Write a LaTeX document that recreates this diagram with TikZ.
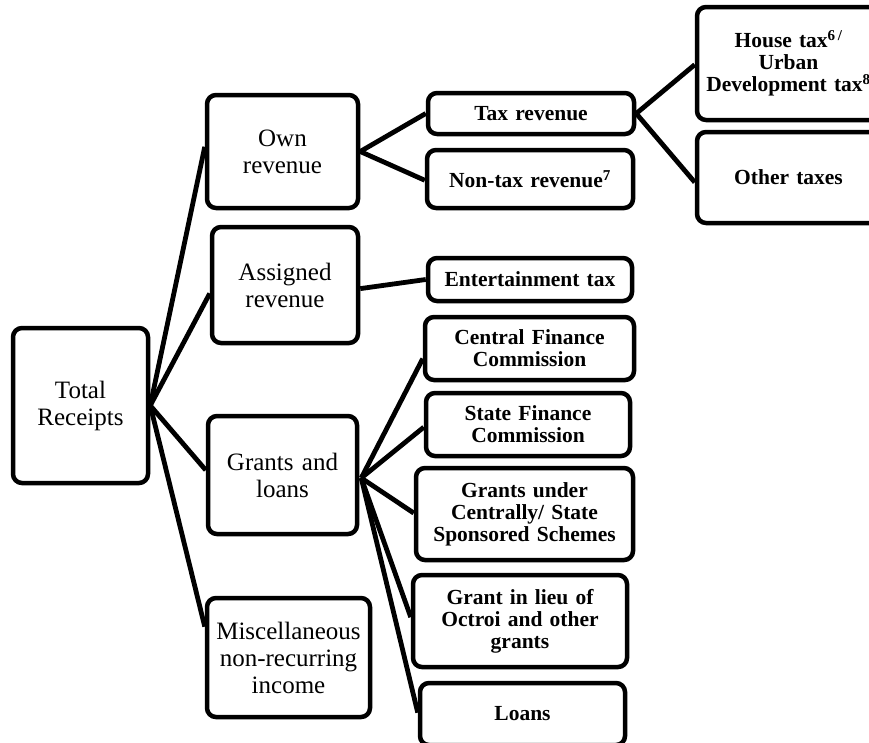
\documentclass[tikz,border=0pt]{standalone}
\usepackage{fontspec}
\setmainfont{Liberation Serif}
\usetikzlibrary{calc}
\tikzset{
  box/.style={draw, line width=4.5pt, rounded corners=9pt, inner sep=0pt, align=center},
  lvlone/.style={box, font=\fontsize{25}{27}\selectfont},
  lvltwo/.style={box, font=\bfseries\fontsize{21.5}{22}\selectfont},
  conn/.style={line width=4.8pt}
}
\begin{document}
\begin{tikzpicture}[x=1pt, y=-1pt]
\useasboundingbox (0,0) rectangle (869,742);
\clip (0,0) rectangle (869,742);
\fill[white] (0,0) rectangle (869,742);
% level 0 and 1
\node[lvlone, minimum width=135pt, minimum height=155pt, text width=129pt] (tot) at (80.5,405.5) {Total\\Receipts};
\node[lvlone, minimum width=151pt, minimum height=113pt, text width=145pt] (own) at (282.5,151.5) {Own\\revenue};
\node[lvlone, minimum width=146pt, minimum height=116pt, text width=140pt] (asg) at (285,285) {Assigned\\revenue};
\node[lvlone, minimum width=149pt, minimum height=118pt, text width=143pt] (grt) at (282.5,475) {Grants and\\loans};
\node[lvlone, minimum width=163pt, minimum height=119pt, text width=157pt] (misc) at (288.5,657.5) {Miscellaneous\\non-recurring\\income};
% level 2
\node[lvltwo, minimum width=206pt, minimum height=41pt, text width=200pt] (tax) at (531,113.5) {Tax revenue};
\node[lvltwo, minimum width=206pt, minimum height=58pt, text width=200pt] (nontax) at (530,179) {Non-tax revenue\textsuperscript{7}};
\node[lvltwo, minimum width=204pt, minimum height=43pt, text width=198pt] (ent) at (530,279.5) {Entertainment tax};
\node[lvltwo, minimum width=209pt, minimum height=63pt, text width=203pt] (cfc) at (529.5,348.5) {Central Finance\\Commission};
\node[lvltwo, minimum width=204pt, minimum height=63pt, text width=198pt] (sfc) at (528,424.5) {State Finance\\Commission};
\node[lvltwo, minimum width=217pt, minimum height=92pt, text width=211pt] (gus) at (524.5,514) {Grants under\\Centrally/ State\\Sponsored Schemes};
\node[lvltwo, minimum width=214pt, minimum height=92pt, text width=208pt] (gil) at (520,621) {Grant in lieu of\\Octroi and other\\grants};
\node[lvltwo, minimum width=205pt, minimum height=62pt, text width=199pt] (loans) at (522.5,714) {Loans};
% level 3
\node[lvltwo, minimum width=183pt, minimum height=113pt, text width=177pt] (house) at (788.5,63.5) {House tax\textsuperscript{6\,/}\\Urban\\Development tax\textsuperscript{8}};
\node[lvltwo, minimum width=183pt, minimum height=91pt, text width=177pt] (other) at (788.5,177.5) {Other taxes};
% connectors
\draw[conn] (tot.east) -- ($(own.north west)!0.46!(own.south west)$);
\draw[conn] (tot.east) -- ($(asg.north west)!0.57!(asg.south west)$);
\draw[conn] (tot.east) -- ($(grt.north west)!0.46!(grt.south west)$);
\draw[conn] (tot.east) -- ($(misc.north west)!0.25!(misc.south west)$);
\draw[conn] (own.east) -- (tax.west);
\draw[conn] (own.east) -- ($(nontax.north west)!0.52!(nontax.south west)$);
\draw[conn] (tax.east) -- ($(house.north west)!0.51!(house.south west)$);
\draw[conn] (tax.east) -- ($(other.north west)!0.55!(other.south west)$);
\draw[conn] ($(asg.north east)!0.53!(asg.south east)$) -- (ent.west);
\coordinate (gj) at ($(grt.east)+(2,3)$);
\draw[conn] (gj) -- ($(cfc.north west)!0.65!(cfc.south west)$);
\draw[conn] (gj) -- ($(sfc.north west)!0.54!(sfc.south west)$);
\draw[conn] (gj) -- ($(gus.north west)!0.49!(gus.south west)$);
\draw[conn] (gj) -- ($(gil.north west)!0.46!(gil.south west)$);
\draw[conn] (gj) -- ($(loans.north west)!0.48!(loans.south west)$);
\end{tikzpicture}
\end{document}
